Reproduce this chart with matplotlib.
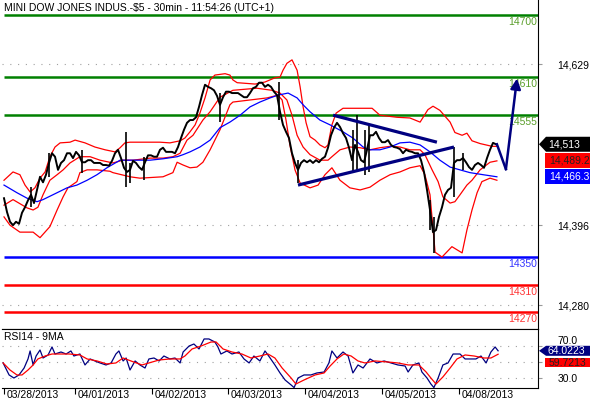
import matplotlib.pyplot as plt
from matplotlib.patches import Polygon, Rectangle
from matplotlib.transforms import IdentityTransform, offset_copy, blended_transform_factory

plt.rcParams['font.family'] = ['Liberation Sans', 'DejaVu Sans']
plt.rcParams['font.size'] = 7.5

title = 'MINI DOW JONES INDUS.-$5 - 30min - 11:54:26 (UTC+1)'

# x axis is a sample index (one sample ~ one hour of 30min bars)
day_ticks = [0, 23.7, 49.3, 74.7, 100.3, 126, 151.7]
day_labels = ['03/28/2013', '04/01/2013', '04/02/2013', '04/03/2013',
              '04/04/2013', '04/05/2013', '04/08/2013']

close = [14435, 14415, 14401, 14396, 14401, 14398, 14414, 14422, 14432, 14440,
         14428, 14447, 14466, 14458, 14469, 14486, 14500, 14495, 14476, 14486,
         14490, 14500, 14500, 14493, 14502, 14497, 14487, 14487, 14490, 14490,
         14486, 14486, 14486, 14483, 14483, 14482, 14489, 14500, 14505, 14493,
         14479, 14473, 14476, 14489, 14486, 14480, 14476, 14487, 14497, 14497,
         14495, 14495, 14505, 14508, 14502, 14502, 14502, 14500, 14509, 14522,
         14534, 14544, 14548, 14548, 14552, 14567, 14584, 14599, 14596, 14594,
         14591, 14583, 14570, 14581, 14589, 14589, 14587, 14587, 14587, 14584,
         14581, 14581, 14587, 14594, 14596, 14602, 14602, 14596, 14599, 14596,
         14589, 14584, 14560, 14541, 14531, 14522, 14500, 14486, 14476, 14486,
         14490, 14487, 14490, 14486, 14490, 14487, 14492, 14495, 14508, 14526,
         14537, 14544, 14538, 14529, 14522, 14508, 14490, 14512, 14502, 14490,
         14487, 14505, 14526, 14526, 14531, 14522, 14516, 14516, 14519, 14512,
         14509, 14508, 14506, 14500, 14505, 14503, 14502, 14500, 14500, 14490,
         14473, 14447, 14418, 14386, 14389, 14408, 14422, 14440, 14447, 14450,
         14486, 14490, 14490, 14493, 14487, 14480, 14476, 14483, 14486, 14483,
         14479, 14493, 14505, 14515, 14513]

# long single bars (high / low) that stick out of the close path
spike_t = [9, 15, 26, 40.7, 42, 46.7, 72, 91.7, 98, 116.3, 117.7, 120.3, 121.7, 142, 143.3, 150, 153]
spike_hi = [14451, 14500, 14505, 14531, 14486, 14495, 14587, 14603, 14490, 14534, 14555, 14534,
            14541, 14432, 14408, 14509, 14500]
spike_lo = [14422, 14466, 14472, 14451, 14457, 14461, 14545, 14548, 14457, 14473, 14476, 14469,
            14473, 14389, 14356, 14437, 14476]

# Bollinger bands
bb_up_t = [0, 3, 5.3, 7, 8.7, 10.3, 12, 13.7, 15.3, 17, 18.7, 22, 23.7, 27, 30.3, 33.7, 37, 38.7,
           40.3, 42, 48.7, 52, 55.3, 58.7, 60.3, 62, 63.7, 65.3, 67, 68.7, 70.3, 73.7, 75.3, 76.3,
           77.7, 83.7, 87, 90.3, 92, 93, 94.3, 96, 97.7, 98.7, 99.7, 100.7, 102, 103.7, 105.3, 107,
           108, 109.3, 110.7, 113, 122.7, 125.3, 131, 135.3, 138.7, 141.3, 143, 145.3, 148.7, 150.3,
           152.7, 154.3, 156, 158.7, 162.7, 164.3]
bb_up_v = [14461, 14473, 14469, 14454, 14444, 14450, 14464, 14473, 14495, 14509, 14515, 14516,
           14519, 14515, 14509, 14505, 14502, 14508, 14515, 14516, 14516, 14516, 14515, 14518,
           14522, 14531, 14541, 14558, 14580, 14606, 14613, 14615, 14613, 14606, 14602, 14600,
           14603, 14609, 14610, 14620, 14630, 14635, 14620, 14596, 14567, 14544, 14524, 14519,
           14512, 14508, 14512, 14541, 14558, 14565, 14565, 14555, 14552, 14551, 14545, 14563,
           14568, 14562, 14545, 14530, 14526, 14529, 14518, 14514, 14510, 14510]
bb_mid_t = [0, 3, 7.7, 9.7, 11.3, 13, 15.3, 17.7, 19.7, 22, 25.3, 28.7, 32, 36.3, 39.7, 43, 48.7,
            53, 56.3, 58.7, 61, 63, 66.3, 68.7, 72, 76.3, 84.3, 89.3, 92, 94.3, 96, 97.7, 99.7, 102,
            105.3, 108, 109.3, 112, 115.3, 118.7, 122, 125.3, 128.7, 132, 135.3, 138.7, 140.3,
            142.7, 144.7, 146.3, 148.7, 150.3, 152, 154.3, 156, 158.7, 162, 164.3]
bb_mid_v = [14425, 14433, 14421, 14418, 14422, 14440, 14461, 14469, 14476, 14486, 14495, 14495,
            14490, 14486, 14490, 14490, 14493, 14493, 14495, 14500, 14519, 14526, 14548, 14560,
            14581, 14591, 14594, 14591, 14587, 14577, 14555, 14526, 14509, 14498, 14490, 14490,
            14495, 14505, 14509, 14508, 14505, 14508, 14510, 14509, 14505, 14505, 14498, 14476,
            14459, 14437, 14428, 14430, 14440, 14454, 14461, 14476, 14487, 14489]
bb_lo_t = [0, 2, 5.3, 9.7, 12, 15.3, 17.7, 19.7, 21.3, 24.3, 25.3, 27.7, 31, 35.3, 36.3, 42, 45.3,
           53, 56.3, 57.7, 59.7, 62, 64.3, 66.3, 68.7, 72, 75.3, 76.3, 82, 87.7, 91.3, 92.7, 94,
           95.3, 97, 98.7, 102, 104.7, 107, 109.3, 112, 115.3, 118.7, 122, 125.3, 128.7, 132,
           135.3, 138.7, 140.3, 142, 143.7, 146, 149.3, 152.7, 154.3, 156, 157.7, 159.3, 162, 164.3]
bb_lo_v = [14408, 14396, 14386, 14386, 14378, 14394, 14418, 14437, 14450, 14459, 14472, 14476,
           14476, 14474, 14472, 14466, 14464, 14466, 14472, 14487, 14483, 14479, 14480, 14487,
           14505, 14534, 14570, 14574, 14577, 14580, 14584, 14577, 14548, 14512, 14476, 14457,
           14450, 14454, 14469, 14479, 14461, 14450, 14447, 14451, 14461, 14469, 14473, 14479,
           14482, 14469, 14440, 14357, 14350, 14365, 14356, 14389, 14418, 14443, 14459, 14464, 14461]

# blue moving average
ma_t = [0, 4.3, 7.7, 11, 13, 16.3, 21, 24.3, 27.7, 31, 34.3, 38.7, 48.7, 53, 57.7, 59.7, 62, 65.3,
        68.7, 72, 75.3, 78.7, 82, 85.3, 88.7, 91.3, 94.7, 97.7, 99.7, 102, 105.3, 108.7, 113,
        116.3, 119.7, 122, 125.3, 128.7, 132, 135.3, 138.7, 142, 145.3, 148.7, 152, 155.3, 159.7, 164.3]
ma_v = [14454, 14443, 14435, 14430, 14433, 14440, 14450, 14454, 14461, 14469, 14479, 14490, 14490,
        14492, 14495, 14498, 14502, 14509, 14519, 14537, 14545, 14555, 14567, 14574, 14580, 14584,
        14587, 14580, 14570, 14560, 14548, 14541, 14531, 14522, 14509, 14505, 14505, 14509, 14515,
        14516, 14512, 14502, 14490, 14480, 14476, 14472, 14469, 14466]

# drawn trend lines and forecast arrow
trend_up_t, trend_up_v = [109.7, 144.3], [14555, 14516]
trend_lo_t, trend_lo_v = [98, 150], [14454, 14509]
forecast_t, forecast_v = [164.3, 167.3, 171.0], [14513, 14477, 14608]

green_levels = [14700, 14610, 14555]
blue_levels = [14350]
red_levels = [14310, 14270]
price_ticks = [14280, 14396, 14629]
price_tags = ['14,513', '14,489.2', '14,466.3']

# RSI 14 and its 9 period MA
rsi_t = [-0.3, 1.7, 3.3, 5.0, 6.7, 8.0, 8.7, 9.7, 10.7, 12.0, 13.0, 14.7, 16.0, 17.0, 19.0, 20.7,
         22.3, 23.3, 25.3, 27.0, 28.7, 30.3, 32.0, 34.0, 35.7, 37.3, 38.3, 39.7, 40.7, 42.0, 43.7,
         45.3, 47.0, 48.3, 50.0, 51.7, 53.3, 55.3, 57.0, 58.7, 59.7, 61.7, 63.3, 65.0, 66.7, 68.3,
         70.3, 71.3, 72.3, 74.3, 76.0, 78.3, 80.0, 81.7, 83.3, 85.3, 87.0, 88.7, 90.3, 92.0, 93.7,
         95.7, 96.7, 98.0, 100.0, 102.3, 104.3, 106.7, 108.3, 109.3, 111.0, 113.0, 114.7, 116.3,
         118.0, 119.7, 122.0, 124.3, 126.7, 129.0, 131.3, 133.7, 134.7, 136.3, 138.3, 139.3, 141.0,
         142.3, 143.3, 144.7, 146.3, 148.0, 149.7, 152.0, 153.7, 155.7, 157.3, 159.0, 160.7, 162.3,
         163.7, 164.7]
rsi_v = [48.8, 33.8, 30.0, 33.8, 42.5, 53.8, 63.8, 46.3, 57.5, 65.0, 55.0, 58.8, 68.8, 60.0, 62.5,
         60.0, 63.8, 57.5, 60.0, 46.3, 53.8, 51.3, 48.8, 46.3, 48.8, 60.0, 63.8, 51.3, 55.0, 40.0,
         51.3, 46.3, 42.5, 53.8, 55.0, 51.3, 57.5, 53.8, 55.0, 48.8, 62.5, 70.0, 72.5, 66.3, 78.8,
         78.8, 75.0, 68.8, 60.0, 63.8, 60.0, 62.5, 53.8, 48.8, 57.5, 51.3, 63.8, 55.0, 46.3, 36.3,
         27.5, 21.3, 18.0, 30.0, 33.8, 33.8, 36.3, 37.5, 48.8, 63.8, 55.0, 62.5, 57.5, 36.3, 46.3,
         42.5, 53.8, 48.8, 51.3, 48.8, 46.3, 45.0, 37.5, 46.3, 48.8, 37.5, 30.0, 22.5, 18.0, 30.0,
         46.3, 48.8, 60.0, 60.0, 53.8, 53.8, 53.8, 57.5, 48.8, 62.5, 68.8, 64.0]
rsi_ma_t = [-0.3, 2.0, 4.3, 6.0, 8.0, 9.7, 11.3, 13.7, 16.0, 19.0, 21.7, 25.3, 27.7, 31.0, 34.3,
            37.3, 39.7, 42.3, 46.0, 48.3, 51.7, 55.3, 58.7, 60.3, 62.7, 65.7, 69.0, 70.7, 73.0,
            76.0, 79.3, 82.3, 85.3, 88.0, 90.3, 92.7, 95.7, 97.3, 100.0, 103.7, 106.7, 108.7, 111.0,
            113.3, 115.7, 118.0, 120.3, 123.7, 128.0, 131.3, 134.7, 138.3, 140.7, 142.3, 144.0,
            146.3, 148.7, 151.0, 153.7, 156.7, 160.0, 162.3, 164.7]
rsi_ma_v = [48.8, 40.0, 33.8, 33.8, 40.0, 46.3, 53.8, 57.5, 60.0, 60.0, 60.0, 58.8, 53.8, 51.3,
            47.5, 48.8, 55.0, 51.3, 46.3, 48.8, 52.5, 53.8, 53.8, 57.5, 66.3, 70.0, 75.0, 75.0,
            66.3, 62.5, 60.0, 55.0, 57.5, 60.0, 55.0, 42.5, 30.0, 22.5, 27.5, 33.8, 36.3, 45.0,
            53.8, 60.0, 57.5, 51.3, 48.8, 51.3, 50.0, 48.8, 46.3, 46.3, 37.5, 30.0, 22.5, 31.3,
            42.5, 53.8, 58.8, 57.5, 55.0, 55.0, 59.7]
rsi_ticks = [30, 50, 70]
rsi_tick_labels = ['30.0', '', '70.0']   # 50.0 sits under the value tag
rsi_tags = ['64.0223', '59.7213']

W, H = 590, 400
navy = '#000080'
xmin, xmax = -0.67, 178

fig = plt.figure(figsize=(W / 100, H / 100), dpi=100)
axp = fig.add_axes([2 / W, (H - 329) / H, 536 / W, 329 / H])
axr = fig.add_axes([2 / W, (H - 388) / H, 536 / W, 59 / H])

# ---- price panel ----
axp.set_xlim(xmin, xmax)
axp.set_ylim(14246, 14721.5)
axp.set_xticks([])
axp.yaxis.tick_right()
axp.set_yticks(price_ticks, [f'{v:,}' for v in price_ticks])
axp.tick_params(axis='y', direction='out', length=3, color='#999999', pad=11, labelsize=7.5)
axp.grid(axis='y', linestyle=(0, (1, 6)), color='#a0a0a0', lw=0.8)
for s in ['top', 'left']:
    axp.spines[s].set_visible(False)

lab_tr = offset_copy(blended_transform_factory(axp.transAxes, axp.transData), fig=fig,
                     x=-1, y=-2, units='dots')
for levels, lc, tc in [(green_levels, '#008000', '#5a9e2a'), (blue_levels, '#0000ff', '#3333ff'),
                       (red_levels, '#ff0000', '#ff3333')]:
    for lv in levels:
        axp.hlines(lv, 0, xmax, color=lc, lw=1.8)
        axp.text(1, lv, str(lv), transform=lab_tr, ha='right', va='top', color=tc, fontsize=7.5)

axp.plot(bb_up_t, bb_up_v, color='#ff0000', lw=0.9)
axp.plot(bb_mid_t, bb_mid_v, color='#ff0000', lw=0.9)
axp.plot(bb_lo_t, bb_lo_v, color='#ff0000', lw=0.9)
axp.plot(ma_t, ma_v, color='#0000ff', lw=0.9)
axp.plot(range(len(close)), close, color='black', lw=1.4)
axp.vlines(spike_t, spike_lo, spike_hi, color='black', lw=1.2)

axp.plot(trend_up_t, trend_up_v, color=navy, lw=2.3, solid_capstyle='butt')
axp.plot(trend_lo_t, trend_lo_v, color=navy, lw=2.3, solid_capstyle='butt')
axp.plot(forecast_t[:2], forecast_v[:2], color=navy, lw=1.8)
axp.annotate('', xy=(forecast_t[2], forecast_v[2]), xytext=(forecast_t[1], forecast_v[1]),
             arrowprops=dict(arrowstyle='-|>', color=navy, lw=1.8, mutation_scale=15,
                             shrinkA=0, shrinkB=0))

fig.text(4 / W, 1 - 8 / H, title, ha='left', va='center', fontsize=7.5)

# ---- RSI panel ----
axr.set_xlim(xmin, xmax)
axr.set_ylim(17.5, 91.25)
axr.yaxis.tick_right()
axr.set_yticks(rsi_ticks, rsi_tick_labels)
axr.tick_params(axis='y', direction='out', length=3, color='#999999', pad=11, labelsize=7.5)
for lab in axr.get_yticklabels():
    if lab.get_text() == '70.0':
        lab.set_verticalalignment('bottom')   # peeks out above the RSI tag
axr.grid(axis='y', linestyle=(0, (1, 6)), color='#a0a0a0', lw=0.8)
axr.set_xticks(day_ticks, [''] * len(day_ticks))
axr.tick_params(axis='x', direction='out', length=4, color='black')
axr.spines['left'].set_visible(False)
axr.plot(rsi_t, rsi_v, color=navy, lw=0.9)
axr.plot(rsi_ma_t, rsi_ma_v, color='#ff0000', lw=0.9)
date_tr = offset_copy(blended_transform_factory(axr.transData, axr.transAxes), fig=fig,
                      x=3, y=-2, units='dots')
for t, lab in zip(day_ticks, day_labels):
    axr.text(t, 0, lab, transform=date_tr, ha='left', va='top', fontsize=7.5, clip_on=False)
fig.text(4 / W, 1 - 337 / H, 'RSI14 - 9MA', ha='left', va='center', fontsize=7.5)


# ---- value tags on the right ----
def disp_y(ax, v):
    return ax.transData.transform((0, v))[1]


def arrow_tag(yc, half, color, text, tcolor):
    pts = [(539, yc), (546, yc + half), (590, yc + half), (590, yc - half), (546, yc - half)]
    fig.add_artist(Polygon(pts, closed=True, facecolor=color, edgecolor='none',
                           transform=IdentityTransform()))
    fig.text(548 / W, yc / H, text, color=tcolor, ha='left', va='center', fontsize=7.5)


def box_tag(yc, half, color, text, tcolor):
    fig.add_artist(Rectangle((545, yc - half), 45, 2 * half, facecolor=color, edgecolor='none',
                             transform=IdentityTransform()))
    fig.text(549 / W, yc / H, text, color=tcolor, ha='left', va='center', fontsize=7.5)


arrow_tag(disp_y(axp, close[-1]), 7.5, 'black', price_tags[0], 'white')
box_tag(disp_y(axp, bb_mid_v[-1]), 7.5, '#ff0000', price_tags[1], '#222222')
box_tag(disp_y(axp, ma_v[-1]), 7.5, '#0000ff', price_tags[2], 'white')

yr = disp_y(axr, rsi_v[-1])
arrow_tag(yr, 5, navy, rsi_tags[0], 'white')
box_tag(yr - 12, 4.5, '#ff0000', rsi_tags[1], '#222222')

fig.savefig('out.png', dpi=100)
